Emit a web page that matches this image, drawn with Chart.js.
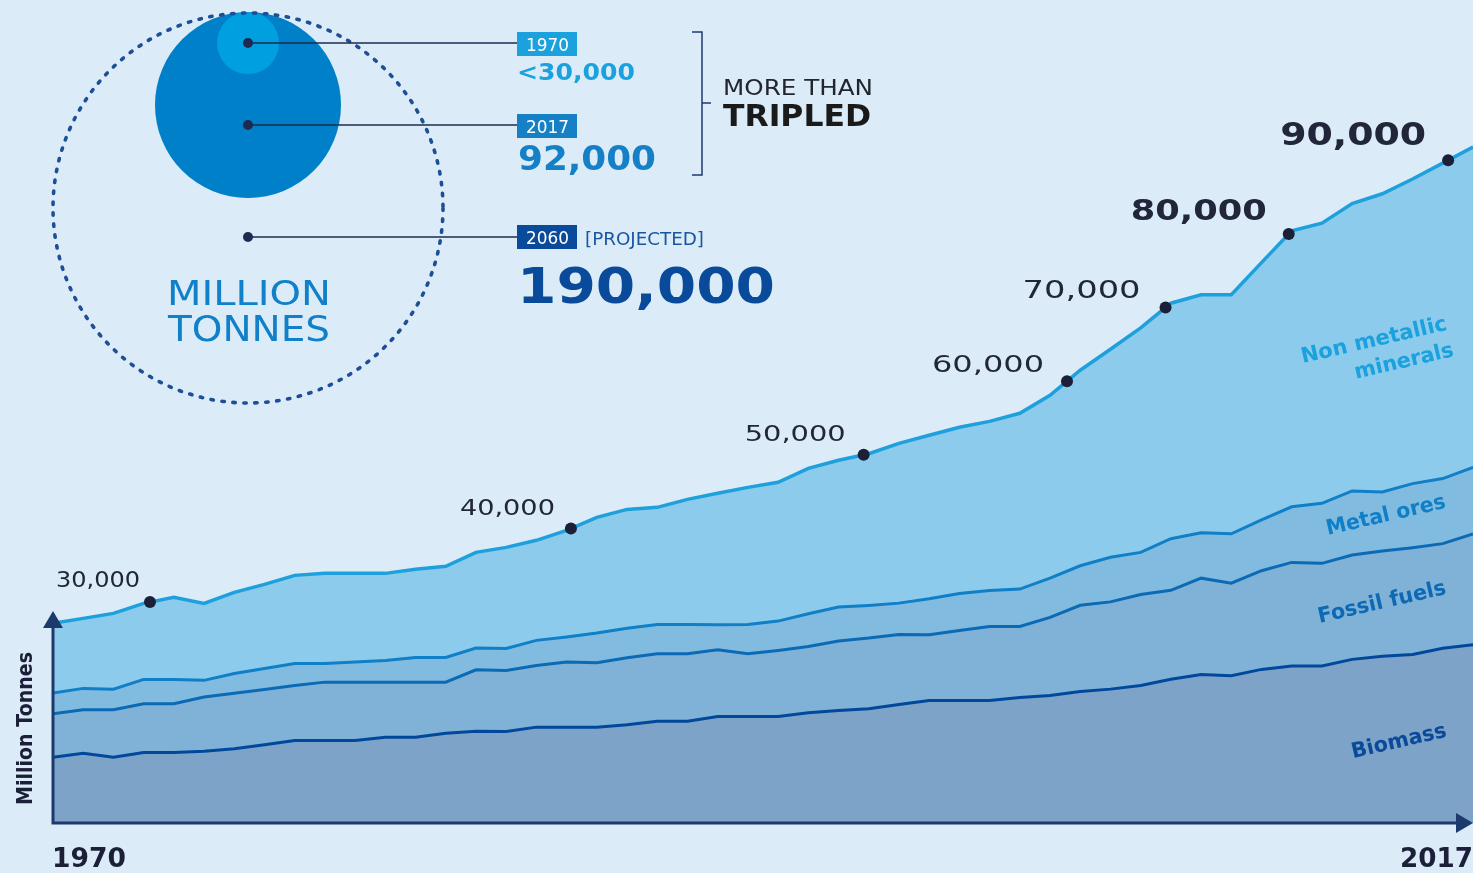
<!DOCTYPE html>
<html>
<head>
<meta charset="utf-8">
<script src="https://cdn.jsdelivr.net/npm/chart.js@4.4.1/dist/chart.umd.min.js"></script>
<style>
  html, body { margin: 0; padding: 0; background: #dbecf8; }
  #wrap { position: relative; width: 1473px; height: 873px; }
</style>
</head>
<body>
<div id="wrap"><canvas id="chart"></canvas></div>
<script>
// Global material extraction, million tonnes, by year
const years = [1970, 1971, 1972, 1973, 1974, 1975, 1976, 1977, 1978, 1979,
    1980, 1981, 1982, 1983, 1984, 1985, 1986, 1987, 1988, 1989,
    1990, 1991, 1992, 1993, 1994, 1995, 1996, 1997, 1998, 1999,
    2000, 2001, 2002, 2003, 2004, 2005, 2006, 2007, 2008, 2009,
    2010, 2011, 2012, 2013, 2014, 2015, 2016, 2017];

const biomass = [8940, 9480, 8940, 9580, 9580, 9760, 10080, 10630, 11210, 11210,
    11210, 11660, 11660, 12200, 12470, 12430, 13020, 13020, 13020, 13340,
    13830, 13830, 14470, 14470, 14470, 14970, 15290, 15520, 16100, 16640,
    16640, 16640, 17050, 17320, 17870, 18180, 18680, 19530, 20180, 19990,
    20860, 21330, 21330, 22220, 22660, 22890, 23740, 24210];

const fossilFuels = [5900, 5900, 6440, 6620, 6620, 7340, 7550, 7510, 7470, 7920,
    7920, 7470, 7470, 6930, 8340, 8290, 8380, 8830, 8750, 9100,
    9160, 9160, 9060, 8520, 8970, 9010, 9420, 9590, 9510, 8930,
    9510, 10050, 9650, 10600, 11690, 11850, 12360, 12070, 13070, 12580,
    13400, 14060, 13930, 14170, 14270, 14500, 14200, 15050];

const metalOres = [2800, 2900, 2800, 3300, 3300, 2270, 2680, 2850, 2990, 2540,
    2720, 2950, 3360, 3360, 2960, 2990, 3400, 3400, 4020, 4020,
    3980, 3980, 3400, 3980, 3980, 4440, 4620, 4440, 4250, 4890,
    5030, 4890, 5070, 5330, 5370, 6050, 5710, 7010, 6160, 6700,
    6890, 7550, 8150, 8710, 8030, 8700, 8830, 9040];

const nonMetallic = [9470, 9510, 10290, 10330, 11140, 10460, 11010, 11410, 11960, 12230,
    12050, 11820, 11960, 12370, 12980, 13720, 13590, 14500, 15720, 16130,
    15900, 16980, 17840, 18610, 18850, 19740, 19930, 20600, 21700, 22190,
    22560, 22960, 23870, 24840, 26560, 28260, 30490, 31980, 32320, 32460,
    34950, 37490, 38040, 39020, 40490, 41370, 42840, 43510];

// milestones marked on the total line
const milestones = [30000, 40000, 50000, 60000, 70000, 80000, 90000];
const milestoneLabels = ['30,000', '40,000', '50,000', '60,000', '70,000', '80,000', '90,000'];

const seriesNames = ['Biomass', 'Fossil fuels', 'Metal ores', 'Non metallic minerals'];

// totals and the points where the total first passes each milestone
const totals = years.map((y, i) => biomass[i] + fossilFuels[i] + metalOres[i] + nonMetallic[i]);
const crossings = milestones.map(level => {
    for (let i = 0; i < totals.length - 1; i++) {
        if (totals[i] < level && totals[i + 1] >= level) {
            const t = (level - totals[i]) / (totals[i + 1] - totals[i]);
            return { x: years[i] + t * (years[i + 1] - years[i]), y: level };
        }
    }
    return { x: years[years.length - 1], y: level };
});

const FONT = '"DejaVu Sans"';
const NAVY = '#1d3a6e';
const INK = '#1b1f38';

// draw text fitted into a box: left, top of capitals, width, cap height
function boxText(ctx, text, left, top, width, height, weight, color) {
    ctx.save();
    ctx.font = weight + ' ' + (height / 0.73) + 'px ' + FONT;
    const w = ctx.measureText(text).width;
    ctx.translate(left, top + height);
    ctx.scale(width / w, 1);
    ctx.fillStyle = color;
    ctx.textAlign = 'left';
    ctx.textBaseline = 'alphabetic';
    ctx.fillText(text, 0, 0);
    ctx.restore();
}

// rotated label, centred on cx, cy
function slantText(ctx, text, cx, cy, width, height, color, angle) {
    ctx.save();
    ctx.translate(cx, cy);
    ctx.rotate(angle);
    ctx.font = 'bold ' + (height / 0.76) + 'px ' + FONT;
    const w = ctx.measureText(text).width;
    ctx.scale(width / w, 1);
    ctx.fillStyle = color;
    ctx.textAlign = 'center';
    ctx.textBaseline = 'middle';
    ctx.fillText(text, 0, 0);
    ctx.restore();
}

const decor = {
    id: 'decor',
    afterDatasetsDraw(chart) {
        const ctx = chart.ctx;
        const area = chart.chartArea;

        // axes with arrow heads
        ctx.save();
        ctx.strokeStyle = NAVY;
        ctx.fillStyle = NAVY;
        ctx.lineWidth = 3;
        ctx.beginPath();
        ctx.moveTo(area.left, area.bottom - 196);
        ctx.lineTo(area.left, area.bottom);
        ctx.lineTo(area.right - 14, area.bottom);
        ctx.stroke();
        ctx.beginPath();
        ctx.moveTo(area.left, area.bottom - 212);
        ctx.lineTo(area.left - 10, area.bottom - 195);
        ctx.lineTo(area.left + 10, area.bottom - 195);
        ctx.closePath();
        ctx.fill();
        ctx.beginPath();
        ctx.moveTo(area.right, area.bottom);
        ctx.lineTo(area.right - 17, area.bottom - 10);
        ctx.lineTo(area.right - 17, area.bottom + 10);
        ctx.closePath();
        ctx.fill();
        ctx.restore();

        // first / last year and axis title
        boxText(ctx, String(years[0]), 52, 848, 74, 19, 'bold', INK);
        boxText(ctx, String(years[years.length - 1]), 1400, 848, 73, 19, 'bold', INK);
        ctx.save();
        ctx.translate(17, 805);
        ctx.rotate(-Math.PI / 2);
        boxText(ctx, 'Million Tonnes', 0, 0, 153, 15, 'bold', INK);
        ctx.restore();

        // milestone labels beside the markers
        const styles = [
            [84, 15, 'normal', 10, 23], [95, 16, 'normal', 16, 21], [101, 16, 'normal', 18, 22],
            [112, 17, 'normal', 23, 18], [118, 18, 'normal', 25, 19], [136, 21, 'bold', 22, 24],
            [146, 23, 'bold', 22, 27]
        ];
        const marks = chart.getDatasetMeta(4).data;
        marks.forEach((pt, i) => {
            const s = styles[i];
            boxText(ctx, milestoneLabels[i], pt.x - s[3] - s[0], pt.y - s[4] - s[1] / 2, s[0], s[1], s[2], '#22263a');
        });

        // series names along the right edge
        const ang = -13 * Math.PI / 180;
        slantText(ctx, 'Non metallic', 1374, 341, 149, 16, '#1ba1dd', ang);
        slantText(ctx, 'minerals', 1404, 362, 101, 16, '#1ba1dd', ang);
        slantText(ctx, seriesNames[2], 1386, 516, 122, 16, '#0f7fc7', ang);
        slantText(ctx, seriesNames[1], 1382, 603, 131, 16, '#0d69b3', ang);
        slantText(ctx, seriesNames[0], 1399, 742, 97, 16, '#0a4a9a', ang);

        // circle infographic
        ctx.save();
        ctx.fillStyle = '#0080c8';
        ctx.beginPath();
        ctx.arc(248, 105, 93, 0, Math.PI * 2);
        ctx.fill();
        ctx.fillStyle = '#00a0e0';
        ctx.beginPath();
        ctx.arc(248, 43, 31, 0, Math.PI * 2);
        ctx.fill();
        ctx.strokeStyle = '#1e4f96';
        ctx.lineWidth = 3.6;
        ctx.lineCap = 'round';
        ctx.setLineDash([2.4, 8.6]);
        ctx.beginPath();
        ctx.arc(248, 208, 195, 0, Math.PI * 2);
        ctx.stroke();
        ctx.setLineDash([]);
        ctx.lineCap = 'butt';
        ctx.strokeStyle = '#1e2a50';
        ctx.fillStyle = '#1e2a50';
        ctx.lineWidth = 1.3;
        [43, 125, 237].forEach(y => {
            ctx.beginPath();
            ctx.moveTo(248, y);
            ctx.lineTo(517, y);
            ctx.stroke();
            ctx.beginPath();
            ctx.arc(248, y, 5, 0, Math.PI * 2);
            ctx.fill();
        });
        // bracket
        ctx.strokeStyle = NAVY;
        ctx.lineWidth = 1.5;
        ctx.beginPath();
        ctx.moveTo(692, 32);
        ctx.lineTo(702, 32);
        ctx.lineTo(702, 175);
        ctx.lineTo(692, 175);
        ctx.moveTo(702, 103);
        ctx.lineTo(711, 103);
        ctx.stroke();
        // year tags
        [['1970', 32, '#1ba1dd'], ['2017', 114, '#1580c6'], ['2060', 225, '#0a4a9a']].forEach(t => {
            ctx.fillStyle = t[2];
            ctx.fillRect(517, t[1], 60, 24);
            boxText(ctx, t[0], 526, t[1] + 6, 43, 13, 'normal', '#ffffff');
        });
        ctx.restore();

        boxText(ctx, '<30,000', 517, 63, 118, 17, 'bold', '#1ba1dd');
        boxText(ctx, '92,000', 518, 146, 138, 24, 'bold', '#1580c6');
        boxText(ctx, '[PROJECTED]', 585, 232, 119, 13, 'normal', '#1a56a0');
        boxText(ctx, '190,000', 517, 267, 258, 36, 'bold', '#0a4a9a');
        boxText(ctx, 'MORE THAN', 723, 79, 150, 16, 'normal', '#22252f');
        boxText(ctx, 'TRIPLED', 723, 104, 148, 22, 'bold', '#1a1a1a');
        boxText(ctx, 'MILLION', 167, 280, 164, 25, 'normal', '#1080c8');
        boxText(ctx, 'TONNES', 168, 315, 162, 26, 'normal', '#1080c8');
    }
};

const toPoints = arr => years.map((yr, i) => ({ x: yr, y: arr[i] }));

new Chart(document.getElementById('chart'), {
    type: 'line',
    data: {
        datasets: [
            { label: seriesNames[0], data: toPoints(biomass), fill: 'origin',
              backgroundColor: '#7ea3c9', borderColor: '#00489b', order: 1 },
            { label: seriesNames[1], data: toPoints(fossilFuels), fill: '-1',
              backgroundColor: '#80b2d8', borderColor: '#0b6ab6', order: 1 },
            { label: seriesNames[2], data: toPoints(metalOres), fill: '-1',
              backgroundColor: '#82bbe0', borderColor: '#0f7fc7', order: 1 },
            { label: seriesNames[3], data: toPoints(nonMetallic), fill: '-1',
              backgroundColor: '#8ccbeb', borderColor: '#1ea0dc', borderWidth: 3.5, order: 1 },
            { label: 'Milestones', data: crossings, stack: 'marks', showLine: false, fill: false,
              pointRadius: 6, pointBackgroundColor: INK, pointBorderWidth: 0, order: 0 }
        ]
    },
    options: {
        responsive: true,
        maintainAspectRatio: false,
        animation: false,
        layout: { autoPadding: false, padding: { left: 53, right: 0, top: 13, bottom: 50 } },
        elements: {
            line: { borderWidth: 3, tension: 0 },
            point: { radius: 0 }
        },
        scales: {
            x: { type: 'linear', min: 1970, max: 2017, display: false },
            y: { stacked: true, min: 0, max: 110000, display: false }
        },
        plugins: {
            legend: { display: false },
            tooltip: { enabled: false }
        }
    },
    plugins: [decor]
});
</script>
</body>
</html>
